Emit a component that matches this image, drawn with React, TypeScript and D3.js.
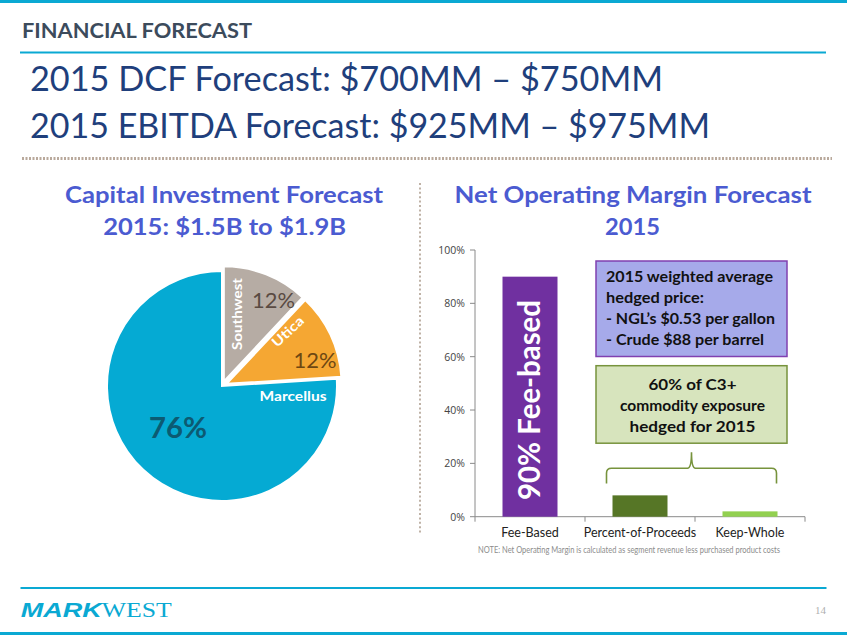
import React from "react";
import * as d3 from "d3";

const pieLabels = ["Southwest", "Utica", "Marcellus"];
const pieValues = [12, 12, 76];
const pieColors = ["#b6aca4", "#f5a733", "#05aad3"];
const piePctColors = ["#594a42", "#6e4712", "#0c5a72"];

const barCategories = ["Fee-Based", "Percent-of-Proceeds", "Keep-Whole"];
const barValues = [0.9, 0.08, 0.02];
const barColors = ["#7030a0", "#567626", "#92d050"];
const yTicks = [0, 0.2, 0.4, 0.6, 0.8, 1.0];

const hedgeLines = [
  "2015 weighted average",
  "hedged price:",
  "- NGL\u2019s $0.53 per gallon",
  "- Crude $88 per barrel",
];
const hedgeWidths = [167, 98, 169, 158];
const exposureLines = ["60% of C3+", "commodity exposure", "hedged for 2015"];
const exposureWidths = [88, 145, 126];

const CAL = "Lato, 'Open Sans', sans-serif";
const CYAN = "#0aa9d3";

export default function App() {
  // Pie
  const cx = 222;
  const cy = 386;
  const r = 115;
  const pie = d3
    .pie<number>()
    .sort(null)
    .value((d) => d)(pieValues);
  const arc = d3.arc<d3.PieArcDatum<number>>().innerRadius(0).outerRadius(r);
  const explode = [5, 5, 0];

  // Bars
  const x = d3
    .scaleBand<string>()
    .domain(barCategories)
    .range([475, 805])
    .paddingInner(0.5)
    .paddingOuter(0.25);
  const y = d3.scaleLinear().domain([0, 1]).range([516.7, 250]);
  const fmt = d3.format(".0%");
  const step = x.step();

  const bx0 = (x("Percent-of-Proceeds") as number) - 6;
  const bx1 = (x("Keep-Whole") as number) + x.bandwidth() - 1;
  const byTop = 468.3;
  const byBot = 483.5;
  const bmid = (bx0 + bx1) / 2;
  const bracePath = `M${bx0},${byBot} L${bx0},${byTop + 5} Q${bx0},${byTop} ${bx0 + 5},${byTop} L${bmid - 4},${byTop} Q${bmid},${byTop} ${bmid},${byTop - 16} Q${bmid},${byTop} ${bmid + 4},${byTop} L${bx1 - 5},${byTop} Q${bx1},${byTop} ${bx1},${byTop + 5} L${bx1},${byBot}`;

  return (
    <svg
      width={847}
      height={635}
      style={{ position: "absolute", left: 0, top: 0, background: "#fff" }}
      fontFamily={CAL}
    >
      <rect x={0} y={0} width={847} height={635} fill="#fff" />
      {/* header */}
      <rect x={0} y={0} width={847} height={3} fill={CYAN} />
      <text x={22} y={38.3} fontSize={21} fontWeight={700} fill="#3c4b5c" textLength={230} lengthAdjust="spacingAndGlyphs">
        FINANCIAL FORECAST
      </text>
      <line x1={20} x2={826} y1={52.5} y2={52.5} stroke={CYAN} strokeWidth={2} />
      <text x={30} y={91} fontSize={34} fill="#1f3f7c" textLength={633} lengthAdjust="spacingAndGlyphs">
        2015 DCF Forecast: $700MM – $750MM
      </text>
      <text x={30} y={138} fontSize={34} fill="#1f3f7c" textLength={680} lengthAdjust="spacingAndGlyphs">
        2015 EBITDA Forecast: $925MM – $975MM
      </text>
      <line x1={22} x2={832} y1={158.5} y2={158.5} stroke="#b9a99c" strokeWidth={3} strokeDasharray="2,1.5" />
      <line x1={420} x2={420} y1={183} y2={535} stroke="#bfb2a6" strokeWidth={2} strokeDasharray="2,2.4" />

      {/* section headings */}
      <text x={224} y={203.3} fontSize={22} fontWeight={700} fill="#4b5bd1" textAnchor="middle" textLength={318} lengthAdjust="spacingAndGlyphs">
        Capital Investment Forecast
      </text>
      <text x={224.7} y={235} fontSize={22} fontWeight={700} fill="#4b5bd1" textAnchor="middle" textLength={243} lengthAdjust="spacingAndGlyphs">
        2015: $1.5B to $1.9B
      </text>
      <text x={633} y={203.3} fontSize={22} fontWeight={700} fill="#4b5bd1" textAnchor="middle" textLength={357} lengthAdjust="spacingAndGlyphs">
        Net Operating Margin Forecast
      </text>
      <text x={632.5} y={235} fontSize={22} fontWeight={700} fill="#4b5bd1" textAnchor="middle" textLength={55} lengthAdjust="spacingAndGlyphs">
        2015
      </text>

      {/* pie */}
      <g transform={`translate(${cx},${cy})`}>
        {pie.map((d, i) => {
          const mid = (d.startAngle + d.endAngle) / 2;
          const dx = Math.sin(mid) * explode[i];
          const dy = -Math.cos(mid) * explode[i];
          return (
            <path
              key={pieLabels[i]}
              d={arc(d) as string}
              transform={`translate(${dx},${dy})`}
              fill={pieColors[i]}
              stroke="#fff"
              strokeWidth={2}
            />
          );
        })}
      </g>
      <text transform="translate(241.5,314) rotate(-90)" fontSize={13.5} fontWeight={700} fill="#fff" textAnchor="middle" textLength={72} lengthAdjust="spacingAndGlyphs">
        {pieLabels[0]}
      </text>
      <text x={273.5} y={308} fontSize={21} fill={piePctColors[0]} textAnchor="middle" textLength={43} lengthAdjust="spacingAndGlyphs">
        {pieValues[0]}%
      </text>
      <text transform="translate(291,335) rotate(-43)" fontSize={13.5} fontWeight={700} fill="#fff" textAnchor="middle" textLength={38} lengthAdjust="spacingAndGlyphs">
        {pieLabels[1]}
      </text>
      <text x={315} y={368} fontSize={21} fill={piePctColors[1]} textAnchor="middle" textLength={43} lengthAdjust="spacingAndGlyphs">
        {pieValues[1]}%
      </text>
      <text x={293} y={401} fontSize={14} fontWeight={700} fill="#fff" textAnchor="middle" textLength={67} lengthAdjust="spacingAndGlyphs">
        {pieLabels[2]}
      </text>
      <text x={178} y={438} fontSize={28} fontWeight={700} fill={piePctColors[2]} textAnchor="middle" textLength={58} lengthAdjust="spacingAndGlyphs">
        {pieValues[2]}%
      </text>

      {/* bar chart axes */}
      <line x1={475} x2={475} y1={y(1)} y2={y(0)} stroke="#8a8a8a" strokeWidth={1} />
      {yTicks.map((t) => (
        <g key={t}>
          <line x1={470} x2={475} y1={y(t)} y2={y(t)} stroke="#8a8a8a" />
          <text x={465} y={y(t) + 4} fontSize={10.5} fill="#444" textAnchor="end" fontFamily="'Open Sans', sans-serif">
            {fmt(t)}
          </text>
        </g>
      ))}
      <line x1={475} x2={805} y1={y(0)} y2={y(0)} stroke="#8a8a8a" />
      {[0, 1, 2, 3].map((i) => (
        <line key={i} x1={475 + i * step} x2={475 + i * step} y1={y(0)} y2={y(0) + 5} stroke="#8a8a8a" />
      ))}
      {barCategories.map((c, i) => (
        <rect
          key={c}
          x={x(c)}
          y={y(barValues[i])}
          width={x.bandwidth()}
          height={y(0) - y(barValues[i])}
          fill={barColors[i]}
        />
      ))}
      {barCategories.map((c, i) => (
        <text key={c} x={(x(c) as number) + x.bandwidth() / 2} y={537.3} fontSize={12.5} fill="#222" textAnchor="middle">
          {c}
        </text>
      ))}
      <text
        transform={`translate(${(x("Fee-Based") as number) + x.bandwidth() / 2 + 10},400) rotate(-90)`}
        fontSize={30}
        fontWeight={700}
        fill="#fff"
        textAnchor="middle"
        textLength={200}
        lengthAdjust="spacingAndGlyphs"
      >
        {fmt(barValues[0])} Fee-based
      </text>
      <text x={629} y={553} fontSize={8.5} fill="#8c8c8c" textAnchor="middle" textLength={302} lengthAdjust="spacingAndGlyphs">
        NOTE: Net Operating Margin is calculated as segment revenue less purchased product costs
      </text>

      {/* annotation boxes */}
      <rect x={596} y={261} width={191} height={95.5} fill="#a6aaea" stroke="#8040b0" strokeWidth={1.5} />
      {hedgeLines.map((l, i) => (
        <text key={l} x={606} y={281.7 + i * 21.1} fontSize={14.5} fontWeight={700} fill="#111" textLength={hedgeWidths[i]} lengthAdjust="spacingAndGlyphs">
          {l}
        </text>
      ))}
      <rect x={596} y={365.7} width={191} height={77.5} fill="#d7e4bd" stroke="#77933c" strokeWidth={1.5} />
      {exposureLines.map((l, i) => (
        <text key={l} x={692.5} y={390 + i * 20.9} fontSize={14.5} fontWeight={700} fill="#111" textAnchor="middle" textLength={exposureWidths[i]} lengthAdjust="spacingAndGlyphs">
          {l}
        </text>
      ))}
      <path d={bracePath} fill="none" stroke="#77933c" strokeWidth={1.6} />

      {/* footer */}
      <line x1={20.5} x2={826.5} y1={588} y2={588} stroke={CYAN} strokeWidth={2} />
      <text x={20.7} y={617.3} fontSize={20} fontWeight={900} fontStyle="italic" fill={CYAN} fontFamily="'Liberation Sans', Arial, sans-serif" textLength={81} lengthAdjust="spacingAndGlyphs">
        MARK
      </text>
      <text x={101.7} y={617.3} fontSize={20} fill={CYAN} fontFamily="'Liberation Serif', serif" textLength={70} lengthAdjust="spacingAndGlyphs">
        WEST
      </text>
      <text x={826} y={614} fontSize={11} fill="#b0b0b0" textAnchor="end" fontFamily="'Liberation Serif', serif">
        14
      </text>
      <rect x={0} y={632} width={847} height={3} fill={CYAN} />
    </svg>
  );
}
